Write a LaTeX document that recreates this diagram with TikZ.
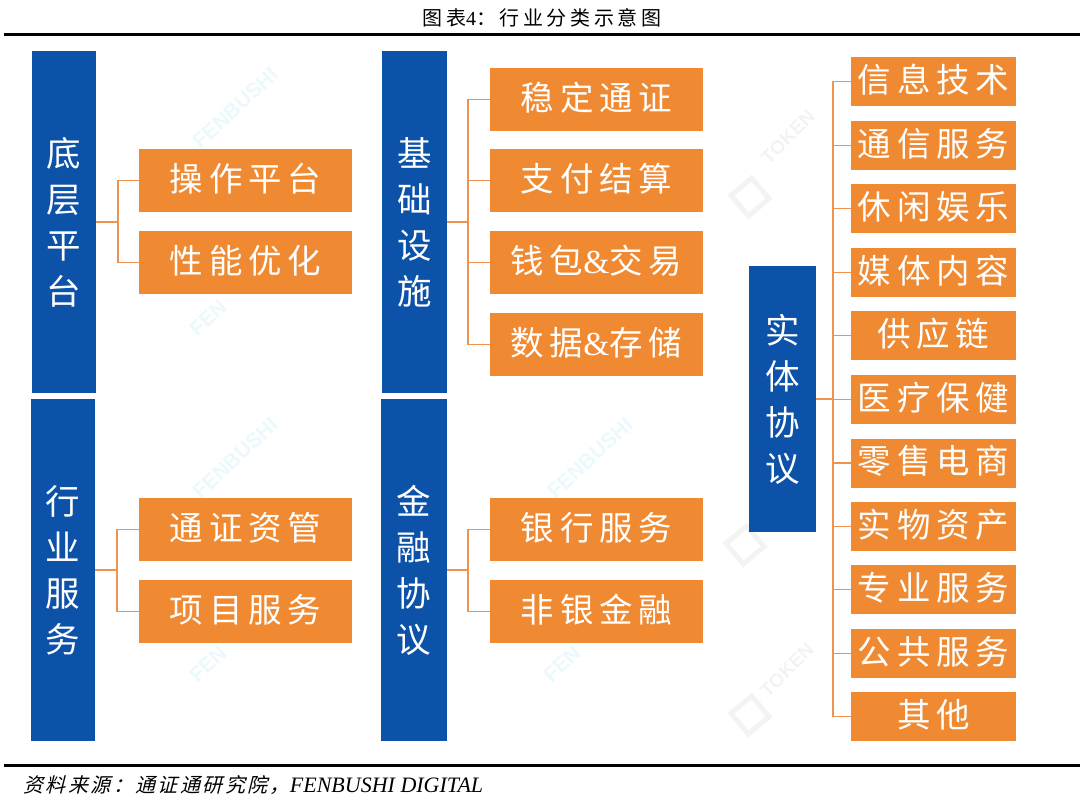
\documentclass[tikz,border=0pt]{standalone}
\usepackage{fontspec}
\setmainfont{Liberation Serif}
\setsansfont{Liberation Sans}
\newfontfamily\cjk{Noto Sans CJK SC}
\newfontfamily\cjkbox[LetterSpace=17]{Noto Sans CJK SC}
\newfontfamily\cjktitle[LetterSpace=18]{Noto Sans CJK SC}
\newfontfamily\cjkit[FakeSlant=0.25,LetterSpace=12]{Noto Sans CJK SC}
\definecolor{bluebox}{HTML}{0C52A9}
\definecolor{orangebox}{HTML}{F08A32}
\definecolor{linkcol}{HTML}{EE9350}
\definecolor{wmcyan}{HTML}{EBF8FC}
\definecolor{wmgray}{HTML}{F2F3F3}
\tikzset{
  x=1pt,y=-1pt,
  bluecol/.style={fill=bluebox,text=white,inner sep=0pt,align=center,
    font={\fontsize{34.5}{46}\selectfont\cjk}},
  orange/.style={fill=orangebox,text=white,inner sep=0pt,text height=26pt,text depth=4.6pt,
    font={\fontsize{33.5}{36}\selectfont\cjkbox}},
  orangeA/.style={orange,minimum width=213pt,minimum height=63pt},
  orangeB/.style={orange,minimum width=165pt,minimum height=49pt},
  link/.style={draw=linkcol,line width=1.8pt},
  rulebar/.style={line width=3pt,black},
  wmfen/.style={text=wmcyan,rotate=43,font={\fontsize{21}{22}\selectfont\sffamily\bfseries}},
  wmtok/.style={text=wmgray,rotate=45,font={\fontsize{19}{22}\selectfont\sffamily\bfseries}},
  wmicon/.style={draw=wmgray,line width=5pt,minimum size=27pt,inner sep=0pt,rotate=40},
}
\begin{document}
\begin{tikzpicture}
\useasboundingbox (0,0) rectangle (1080,801);
% faint watermarks
\foreach \n/\px/\py in {f1/235/108,f3/235/458,f7/590/458}
  \node[wmfen] (\n) at (\px,\py) {FENBUSHI};
\foreach \n/\px/\py in {f2/208/318,f4/208/664,f8/562/664}
  \node[wmfen] (\n) at (\px,\py) {FEN};
\foreach \n/\px/\py in {t1n/788/137,t2n/787/670}
  \node[wmtok] (\n) at (\px,\py) {TOKEN};
\foreach \n/\px/\py in {i1/750/197,i2/750/715,i3/745/545}
  \node[wmicon] (\n) at (\px,\py) {};

\coordinate (t1) at (4,34); \coordinate (t2) at (1080,34);
\coordinate (b1) at (4,765); \coordinate (b2) at (1080,765);
\draw[rulebar] (t1) -- (t2);
\draw[rulebar] (b1) -- (b2);
\node[font={\fontsize{20}{22}\selectfont}] (title) at (542,18) {{\cjktitle 图表}4{\cjktitle ：行业分类示意图}};
\node[anchor=west,font={\fontsize{20}{22}\selectfont}] (source) at (20,785) {{\cjkit 资料来源：通证通研究院，}{\fontsize{22}{22}\selectfont\textit{FENBUSHI DIGITAL}}};

% blue columns
\node[bluecol,minimum width=64pt,minimum height=342pt] (A) at (64,222) {底\\层\\平\\台};
\node[bluecol,minimum width=64pt,minimum height=342pt] (B) at (63,570) {行\\业\\服\\务};
\node[bluecol,minimum width=65pt,minimum height=342pt] (C) at (414.5,222) {基\\础\\设\\施};
\node[bluecol,minimum width=66pt,minimum height=342pt] (D) at (414,570) {金\\融\\协\\议};
\node[bluecol,minimum width=67pt,minimum height=266pt] (E) at (782.5,399) {实\\体\\协\\议};

% left column leaves
\node[orangeA] (a1) at (245.5,180.5) {操作平台};
\node[orangeA] (a2) at (245.5,262.5) {性能优化};
\node[orangeA] (b1n) at (245.5,529.5) {通证资管};
\node[orangeA] (b2n) at (245.5,611.5) {项目服务};

% middle column leaves
\node[orangeA] (c1) at (596.5,99.5) {稳定通证};
\node[orangeA] (c2) at (596.5,180.5) {支付结算};
\node[orangeA] (c3) at (596.5,262.5) {钱包{\rmfamily\&}交易};
\node[orangeA] (c4) at (596.5,344.5) {数据{\rmfamily\&}存储};
\node[orangeA] (d1) at (596.5,529.5) {银行服务};
\node[orangeA] (d2) at (596.5,611.5) {非银金融};

% right column leaves
\node[orangeB] (e1) at (933.5,81.5) {信息技术};
\node[orangeB] (e2) at (933.5,145.5) {通信服务};
\node[orangeB] (e3) at (933.5,208.5) {休闲娱乐};
\node[orangeB] (e4) at (933.5,272.5) {媒体内容};
\node[orangeB] (e5) at (933.5,335.5) {供应链};
\node[orangeB] (e6) at (933.5,399.5) {医疗保健};
\node[orangeB] (e7) at (933.5,463) {零售电商};
\node[orangeB] (e8) at (933.5,526.5) {实物资产};
\node[orangeB] (e9) at (933.5,589.5) {专业服务};
\node[orangeB] (e10) at (933.5,653.5) {公共服务};
\node[orangeB] (e11) at (933.5,716.5) {其他};

% connectors
\coordinate (ta) at (118,222);
\coordinate (tb) at (117,570);
\coordinate (tc) at (468,222);
\coordinate (td) at (468,570);
\coordinate (te) at (833,399);
\draw[link] (A.east) -- (ta);
\foreach \n in {a1,a2} \draw[link] (ta) |- (\n.west);
\draw[link] (B.east) -- (tb);
\foreach \n in {b1n,b2n} \draw[link] (tb) |- (\n.west);
\draw[link] (C.east) -- (tc);
\foreach \n in {c1,c2,c3,c4} \draw[link] (tc) |- (\n.west);
\draw[link] (D.east) -- (td);
\foreach \n in {d1,d2} \draw[link] (td) |- (\n.west);
\draw[link] (E.east) -- (te);
\foreach \n in {e1,e2,e3,e4,e5,e6,e7,e8,e9,e10,e11} \draw[link] (te) |- (\n.west);
\end{tikzpicture}
\end{document}
